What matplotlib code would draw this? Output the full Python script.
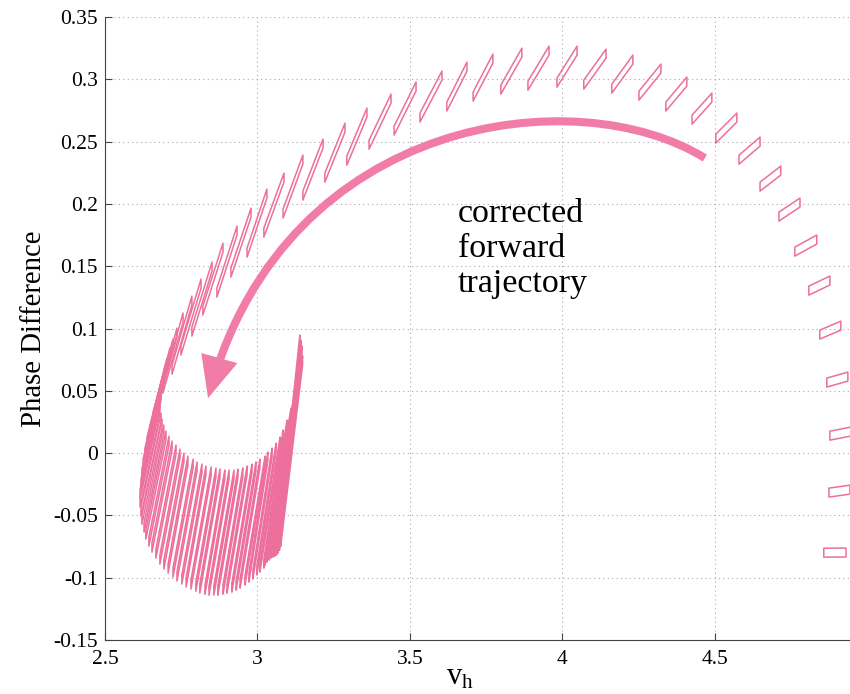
import matplotlib
matplotlib.use("Agg")
import matplotlib.pyplot as plt
import numpy as np
from matplotlib.collections import PolyCollection
from matplotlib.patches import FancyArrowPatch
from matplotlib.path import Path

plt.rcParams['font.family'] = ['Liberation Serif', 'DejaVu Serif']
plt.rcParams['mathtext.fontset'] = 'custom'
plt.rcParams['mathtext.rm'] = 'Liberation Serif'
plt.rcParams['mathtext.it'] = 'Liberation Serif'

# one closed loop per forcing cycle: bottom-left corner -> top-right corner
loop_x0 = [4.857, 4.874, 4.877, 4.867, 4.844, 4.808, 4.762, 4.710, 4.648, 4.579,
           4.503, 4.425, 4.339, 4.251, 4.162, 4.070, 3.982, 3.887, 3.798, 3.707,
           3.621, 3.533, 3.448, 3.366, 3.293, 3.221, 3.149, 3.084, 3.021, 2.966,
           2.913, 2.867, 2.821, 2.785, 2.749, 2.720, 2.690, 2.670, 2.657, 2.648,
           2.638, 2.631, 2.625, 2.621, 2.618, 2.615, 2.615, 2.618, 2.621, 2.628,
           2.634, 2.644, 2.654, 2.667, 2.680, 2.693, 2.707, 2.723, 2.736, 2.752,
           2.766, 2.782, 2.798, 2.811, 2.828, 2.841, 2.857, 2.870, 2.887, 2.900,
           2.916, 2.930, 2.943, 2.959, 2.972, 2.985, 2.998, 3.008, 3.021, 3.025,
           3.031, 3.038, 3.044, 3.051, 3.057, 3.061, 3.064, 3.067, 3.072, 3.076]
loop_y0 = [-0.0835, -0.0353, 0.0104, 0.0530, 0.0915, 0.1268, 0.1581, 0.1862, 0.2103, 0.2319,
           0.2488, 0.2640, 0.2745, 0.2833, 0.2889, 0.2921, 0.2937, 0.2913, 0.2881, 0.2825,
           0.2745, 0.2657, 0.2552, 0.2440, 0.2311, 0.2175, 0.2031, 0.1886, 0.1734, 0.1573,
           0.1413, 0.1252, 0.1108, 0.0939, 0.0787, 0.0634, 0.0482, 0.0345, 0.0249, 0.0152,
           0.0056, -0.0032, -0.0120, -0.0201, -0.0281, -0.0361, -0.0433, -0.0506, -0.0570, -0.0634,
           -0.0690, -0.0746, -0.0795, -0.0843, -0.0891, -0.0931, -0.0963, -0.0995, -0.1027, -0.1051,
           -0.1075, -0.1091, -0.1108, -0.1124, -0.1132, -0.1140, -0.1140, -0.1140, -0.1132, -0.1124,
           -0.1116, -0.1100, -0.1083, -0.1059, -0.1035, -0.1011, -0.0979, -0.0955, -0.0923, -0.0899,
           -0.0875, -0.0859, -0.0843, -0.0835, -0.0827, -0.0819, -0.0811, -0.0803, -0.0780, -0.0750]
loop_x1 = [4.930, 4.943, 4.946, 4.936, 4.913, 4.877, 4.834, 4.779, 4.716, 4.648,
           4.572, 4.490, 4.408, 4.323, 4.231, 4.143, 4.048, 3.956, 3.867, 3.772,
           3.687, 3.605, 3.520, 3.438, 3.359, 3.287, 3.215, 3.149, 3.087, 3.031,
           2.979, 2.933, 2.887, 2.851, 2.815, 2.785, 2.756, 2.736, 2.723, 2.713,
           2.703, 2.697, 2.690, 2.687, 2.684, 2.680, 2.680, 2.684, 2.687, 2.693,
           2.700, 2.710, 2.720, 2.733, 2.746, 2.759, 2.772, 2.789, 2.802, 2.818,
           2.831, 2.848, 2.864, 2.877, 2.893, 2.907, 2.923, 2.936, 2.952, 2.966,
           2.982, 2.995, 3.008, 3.025, 3.034, 3.048, 3.061, 3.074, 3.084, 3.097,
           3.110, 3.120, 3.130, 3.136, 3.139, 3.143, 3.143, 3.139, 3.146, 3.148]
loop_y1 = [-0.0762, -0.0257, 0.0209, 0.0650, 0.1059, 0.1421, 0.1750, 0.2047, 0.2303, 0.2536,
           0.2729, 0.2889, 0.3018, 0.3122, 0.3194, 0.3242, 0.3266, 0.3266, 0.3250, 0.3202,
           0.3138, 0.3066, 0.2978, 0.2881, 0.2769, 0.2648, 0.2520, 0.2392, 0.2247, 0.2119,
           0.1966, 0.1822, 0.1685, 0.1533, 0.1396, 0.1260, 0.1124, 0.1003, 0.0915, 0.0843,
           0.0762, 0.0698, 0.0626, 0.0562, 0.0498, 0.0433, 0.0377, 0.0321, 0.0273, 0.0225,
           0.0177, 0.0136, 0.0096, 0.0064, 0.0032, 0.0000, -0.0024, -0.0048, -0.0072, -0.0088,
           -0.0104, -0.0112, -0.0120, -0.0128, -0.0136, -0.0136, -0.0136, -0.0128, -0.0120, -0.0104,
           -0.0088, -0.0072, -0.0048, -0.0024, 0.0008, 0.0040, 0.0080, 0.0128, 0.0185, 0.0265,
           0.0361, 0.0465, 0.0570, 0.0666, 0.0762, 0.0843, 0.0907, 0.0947, 0.0860, 0.0780]
phase_jump = 0.0072

xticks = [2.5, 3, 3.5, 4, 4.5]
xtick_labels = ['2.5', '3', '3.5', '4', '4.5']
yticks = [-0.15, -0.1, -0.05, 0, 0.05, 0.1, 0.15, 0.2, 0.25, 0.3, 0.35]
ytick_labels = ['-0.15', '-0.1', '-0.05', '0', '0.05', '0.1', '0.15', '0.2', '0.25', '0.3', '0.35']

# arrow path (cubic bezier control points)
arrow_pts = [(4.467, 0.2368), (4.050, 0.3000), (3.100, 0.2720), (2.838, 0.0441)]

loop_color = '#ec6f9c'
arrow_color = '#f27ca8'

fig = plt.figure(figsize=(8.5, 6.94), dpi=100)
ax = fig.add_axes([0.1235, 0.0778, 0.8765, 0.8977])

verts = []
for x0, y0, x1, y1 in zip(loop_x0, loop_y0, loop_x1, loop_y1):
    verts.append([(x0, y0), (x0, y0 + phase_jump), (x1, y1), (x1, y1 - phase_jump)])
loops = PolyCollection(verts, closed=True, facecolors='none', edgecolors=loop_color,
                       linewidths=1.1, zorder=3)
ax.add_collection(loops)

path = Path(arrow_pts, [Path.MOVETO, Path.CURVE4, Path.CURVE4, Path.CURVE4])
arrow = FancyArrowPatch(path=path, arrowstyle='-|>,head_length=20,head_width=9',
                        mutation_scale=1, lw=5.8, color=arrow_color,
                        joinstyle='miter', capstyle='butt', zorder=4)
ax.add_patch(arrow)

ax.text(3.657, 0.2047, 'corrected\nforward\ntrajectory', fontsize=24.5,
        va='top', ha='left', linespacing=1.2)

ax.set_xlim(2.5, 4.943)
ax.set_ylim(-0.15, 0.35)
ax.set_xticks(xticks)
ax.set_xticklabels(xtick_labels)
ax.set_yticks(yticks)
ax.set_yticklabels(ytick_labels)
ax.tick_params(direction='in', length=5, labelsize=15.5, color='#444444')
ax.tick_params(axis='y', pad=5)
ax.tick_params(axis='x', pad=7)
ax.grid(True, linestyle=(0, (1, 3)), color='#aaaaaa', lw=0.8)
ax.set_axisbelow(True)
for s in ['top', 'right']:
    ax.spines[s].set_visible(False)
for s in ['left', 'bottom']:
    ax.spines[s].set_color('#444444')

ax.set_ylabel('Phase Difference', fontsize=20.7)
ax.yaxis.set_label_coords(-0.078, 0.5)
ax.set_xlabel(r'$\mathrm{v_h}$', fontsize=22)
ax.xaxis.set_label_coords(0.4765, -0.036)

plt.savefig('out.png', dpi=100)
